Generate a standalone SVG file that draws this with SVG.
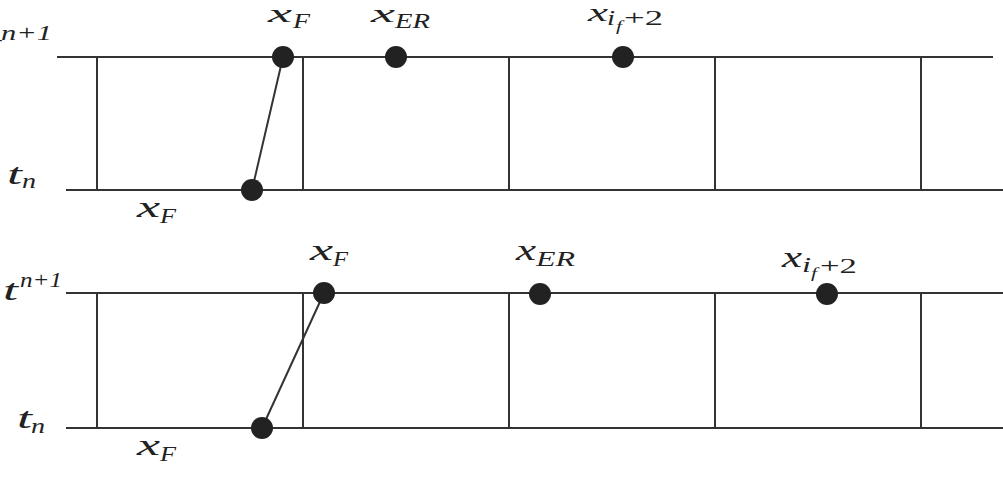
<svg xmlns="http://www.w3.org/2000/svg" width="1003" height="477" viewBox="0 0 1003 477">
<style>
.ln{stroke:#333;stroke-width:2;fill:none}
.dot{fill:#222}
.m{font-family:"Liberation Serif",serif;font-style:italic;font-size:29px;fill:#222}
.mt{font-family:"Liberation Serif",serif;font-style:italic;font-size:25px;fill:#222}
.s{font-family:"Liberation Serif",serif;font-style:italic;font-size:20px;fill:#222}
.u{font-family:"Liberation Serif",serif;font-size:20px;fill:#222}
.ss{font-family:"Liberation Serif",serif;font-style:italic;font-size:14px;fill:#222}
</style>
<rect width="1003" height="477" fill="#fff"/>
<g id="grid-top">
<line class="ln" x1="57" y1="57" x2="993" y2="57"/>
<line class="ln" x1="66" y1="190" x2="1003" y2="190"/>
<line class="ln" x1="97" y1="57" x2="97" y2="190"/>
<line class="ln" x1="303" y1="57" x2="303" y2="190"/>
<line class="ln" x1="509" y1="57" x2="509" y2="190"/>
<line class="ln" x1="715" y1="57" x2="715" y2="190"/>
<line class="ln" x1="921" y1="57" x2="921" y2="190"/>
</g>
<g id="grid-bottom">
<line class="ln" x1="66" y1="293" x2="1003" y2="293"/>
<line class="ln" x1="66" y1="428" x2="1003" y2="428"/>
<line class="ln" x1="97" y1="293" x2="97" y2="428"/>
<line class="ln" x1="303" y1="293" x2="303" y2="428"/>
<line class="ln" x1="509" y1="293" x2="509" y2="428"/>
<line class="ln" x1="715" y1="293" x2="715" y2="428"/>
<line class="ln" x1="921" y1="293" x2="921" y2="428"/>
</g>
<g id="connectors">
<line class="ln" x1="283" y1="57" x2="252" y2="190"/>
<line class="ln" x1="324" y1="293" x2="262" y2="428"/>
</g>
<g id="axis-labels">
<text class="m" x="-13" y="54" textLength="14" lengthAdjust="spacingAndGlyphs">t</text>
<text class="s" x="1" y="40" textLength="51" lengthAdjust="spacingAndGlyphs">n<tspan class="u">+1</tspan></text>
<text class="m" x="7" y="184" textLength="15" lengthAdjust="spacingAndGlyphs">t</text>
<text class="s" x="22" y="188" textLength="14" lengthAdjust="spacingAndGlyphs">n</text>
<text class="m" x="3" y="300" textLength="15" lengthAdjust="spacingAndGlyphs">t</text>
<text class="s" x="20" y="287" textLength="42" lengthAdjust="spacingAndGlyphs">n<tspan class="u">+1</tspan></text>
<text class="m" x="17" y="428" textLength="15" lengthAdjust="spacingAndGlyphs">t</text>
<text class="s" x="31" y="433" textLength="14" lengthAdjust="spacingAndGlyphs">n</text>
</g>
<g id="node-top-xF-new">
<circle class="dot" cx="283" cy="57" r="11"/>
<text class="mt" x="268" y="22" textLength="24" lengthAdjust="spacingAndGlyphs">x</text>
<text class="s" x="293" y="28" textLength="17" lengthAdjust="spacingAndGlyphs">F</text>
</g>
<g id="node-top-xF-old">
<circle class="dot" cx="252" cy="190" r="11"/>
<text class="m" x="137" y="217" textLength="23" lengthAdjust="spacingAndGlyphs">x</text>
<text class="s" x="160" y="223" textLength="16" lengthAdjust="spacingAndGlyphs">F</text>
</g>
<g id="node-top-xER">
<circle class="dot" cx="396" cy="57" r="11"/>
<text class="mt" x="371" y="22" textLength="24" lengthAdjust="spacingAndGlyphs">x</text>
<text class="s" x="395" y="28" textLength="35" lengthAdjust="spacingAndGlyphs">ER</text>
</g>
<g id="node-top-xif2">
<circle class="dot" cx="623" cy="57" r="11"/>
<text class="mt" x="588" y="21" textLength="20" lengthAdjust="spacingAndGlyphs">x</text>
<text class="s" x="607" y="25" textLength="8" lengthAdjust="spacingAndGlyphs">i</text>
<text class="ss" x="616" y="31" textLength="6" lengthAdjust="spacingAndGlyphs">f</text>
<text class="u" x="624" y="25" textLength="39" lengthAdjust="spacingAndGlyphs">+2</text>
</g>
<g id="node-bot-xF-new">
<circle class="dot" cx="324" cy="293" r="11"/>
<text class="m" x="310" y="260" textLength="23" lengthAdjust="spacingAndGlyphs">x</text>
<text class="s" x="333" y="266" textLength="15" lengthAdjust="spacingAndGlyphs">F</text>
</g>
<g id="node-bot-xF-old">
<circle class="dot" cx="262" cy="428" r="11"/>
<text class="m" x="137" y="455" textLength="23" lengthAdjust="spacingAndGlyphs">x</text>
<text class="s" x="160" y="461" textLength="16" lengthAdjust="spacingAndGlyphs">F</text>
</g>
<g id="node-bot-xER">
<circle class="dot" cx="540" cy="294" r="11"/>
<text class="m" x="516" y="260" textLength="20" lengthAdjust="spacingAndGlyphs">x</text>
<text class="s" x="536" y="266" textLength="39" lengthAdjust="spacingAndGlyphs">ER</text>
</g>
<g id="node-bot-xif2">
<circle class="dot" cx="827" cy="294" r="11"/>
<text class="m" x="782" y="267" textLength="20" lengthAdjust="spacingAndGlyphs">x</text>
<text class="s" x="802" y="272" textLength="9" lengthAdjust="spacingAndGlyphs">i</text>
<text class="ss" x="811" y="278" textLength="6" lengthAdjust="spacingAndGlyphs">f</text>
<text class="u" x="820" y="273" textLength="37" lengthAdjust="spacingAndGlyphs">+2</text>
</g>
</svg>
